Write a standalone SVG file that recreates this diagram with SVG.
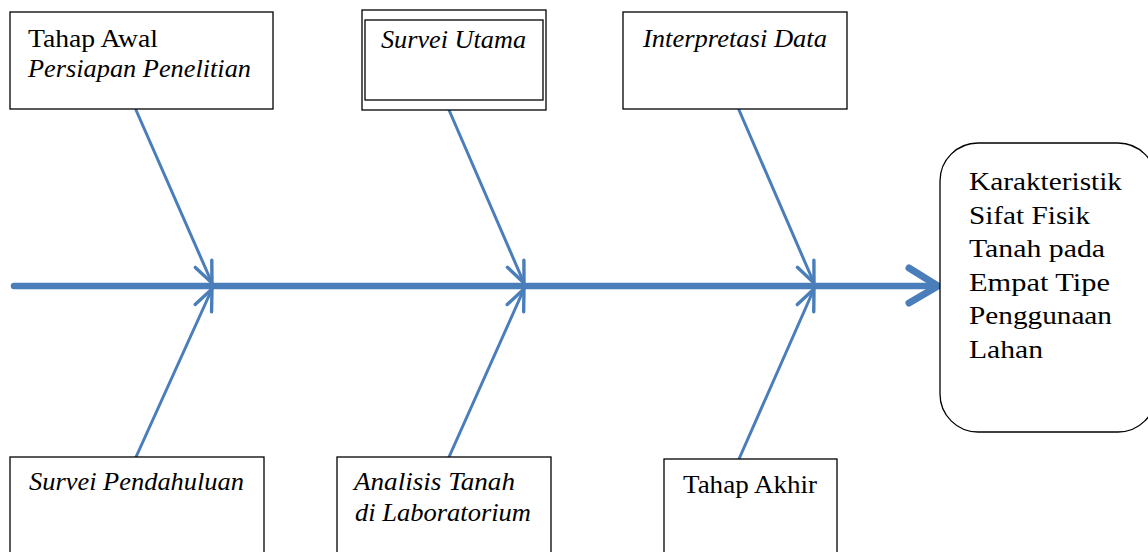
<svg xmlns="http://www.w3.org/2000/svg" width="1148" height="552" viewBox="0 0 1148 552">
<style>
.box{fill:#fff;stroke:#000;stroke-width:1.3}
.t{font-family:"Liberation Serif",serif;font-size:26px;fill:#000}
.i{font-style:italic}
.c{stroke:#4A7EBB;fill:none;stroke-linecap:round;stroke-linejoin:round}
</style>
<defs>
<marker id="ah" markerUnits="userSpaceOnUse" viewBox="-24 -12 26 24" markerWidth="26" markerHeight="24" refX="0" refY="0" orient="auto">
<path d="M-21,-9 L0,0 L-21,9" fill="none" stroke="#4A7EBB" stroke-width="3.4" stroke-linecap="round" stroke-linejoin="round"/>
</marker>
</defs>
<rect width="1148" height="552" fill="#fff"/>
<g id="connectors">
<line class="c" x1="14" y1="286" x2="936" y2="286" stroke-width="6.5"/>
<path class="c" d="M909,268 L938,286 L909,303" stroke-width="7"/>
<line class="c" x1="136" y1="110" x2="212" y2="283" stroke-width="3" marker-end="url(#ah)"/>
<line class="c" x1="136" y1="457" x2="212" y2="289" stroke-width="3" marker-end="url(#ah)"/>
<line class="c" x1="449" y1="110" x2="524" y2="283" stroke-width="3" marker-end="url(#ah)"/>
<line class="c" x1="449" y1="457" x2="524" y2="289" stroke-width="3" marker-end="url(#ah)"/>
<line class="c" x1="739" y1="110" x2="814" y2="283" stroke-width="3" marker-end="url(#ah)"/>
<line class="c" x1="739" y1="459" x2="814" y2="289" stroke-width="3" marker-end="url(#ah)"/>
</g>
<g id="tahap-awal">
<rect class="box" x="10" y="12" width="263" height="97"/>
<text class="t" x="28" y="47" textLength="130" lengthAdjust="spacingAndGlyphs">Tahap Awal</text>
<text class="t i" x="28" y="77" textLength="223" lengthAdjust="spacingAndGlyphs">Persiapan Penelitian</text>
</g>
<g id="survei-utama">
<rect class="box" x="362" y="10" width="184" height="100"/>
<rect class="box" x="365" y="20" width="178" height="80"/>
<text class="t i" x="381" y="48" textLength="145" lengthAdjust="spacingAndGlyphs">Survei Utama</text>
</g>
<g id="interpretasi-data">
<rect class="box" x="623" y="12" width="224" height="97"/>
<text class="t i" x="643" y="47" textLength="184" lengthAdjust="spacingAndGlyphs">Interpretasi Data</text>
</g>
<g id="survei-pendahuluan">
<rect class="box" x="10" y="457" width="254" height="100"/>
<text class="t i" x="29" y="490" textLength="215" lengthAdjust="spacingAndGlyphs">Survei Pendahuluan</text>
</g>
<g id="analisis-tanah">
<rect class="box" x="337" y="457" width="214" height="100"/>
<text class="t i" x="354" y="490" textLength="161" lengthAdjust="spacingAndGlyphs">Analisis Tanah</text>
<text class="t i" x="355" y="521" textLength="176" lengthAdjust="spacingAndGlyphs">di Laboratorium</text>
</g>
<g id="tahap-akhir">
<rect class="box" x="664" y="459" width="173" height="100"/>
<text class="t" x="683" y="493" textLength="134" lengthAdjust="spacingAndGlyphs">Tahap Akhir</text>
</g>
<g id="karakteristik">
<rect class="box" x="940" y="143" width="216" height="289" rx="38" ry="38"/>
<text class="t" x="969" y="190" textLength="153" lengthAdjust="spacingAndGlyphs">Karakteristik</text>
<text class="t" x="969" y="224" textLength="121" lengthAdjust="spacingAndGlyphs">Sifat Fisik</text>
<text class="t" x="969" y="257" textLength="136" lengthAdjust="spacingAndGlyphs">Tanah pada</text>
<text class="t" x="969" y="291" textLength="141" lengthAdjust="spacingAndGlyphs">Empat Tipe</text>
<text class="t" x="969" y="324" textLength="143" lengthAdjust="spacingAndGlyphs">Penggunaan</text>
<text class="t" x="969" y="358" textLength="74" lengthAdjust="spacingAndGlyphs">Lahan</text>
</g>
</svg>
